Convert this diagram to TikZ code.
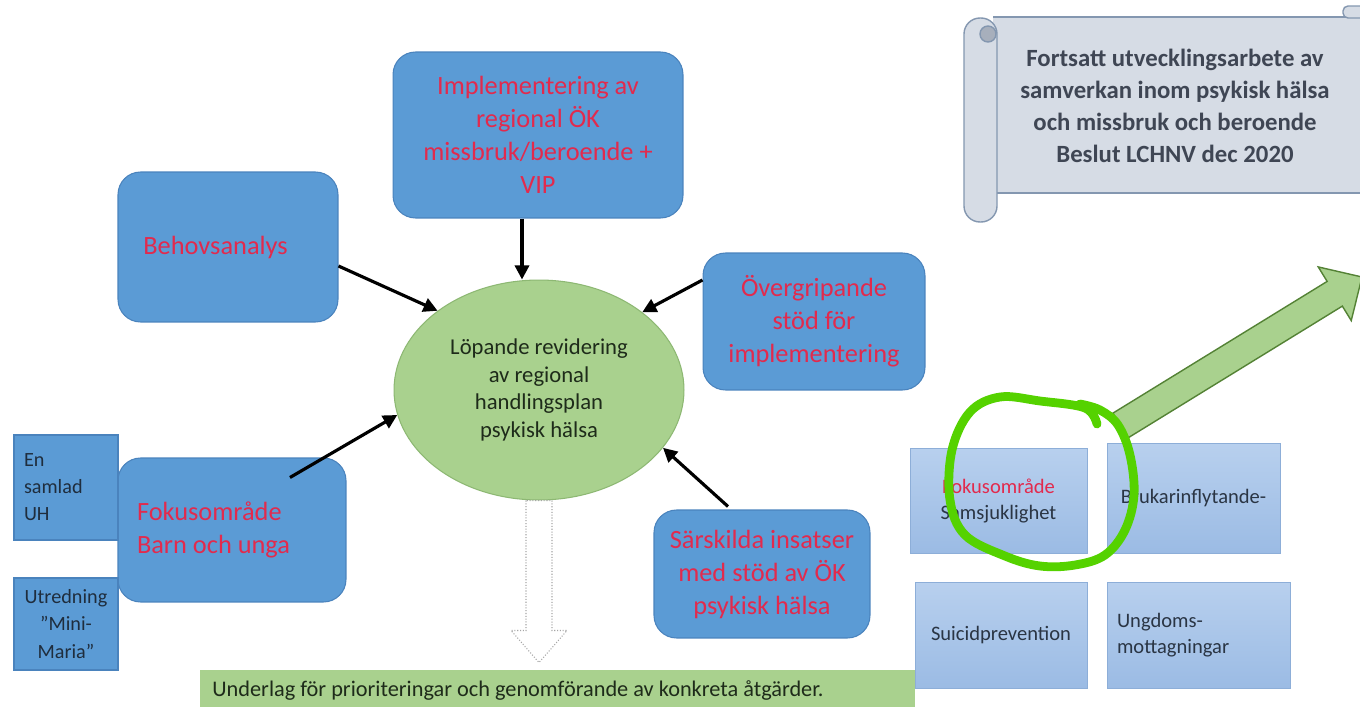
\documentclass[tikz,border=0pt]{standalone}
\usepackage{fontspec}
\setmainfont{Carlito}
\usetikzlibrary{calc,arrows.meta,shapes.geometric}
\definecolor{boxblue}{HTML}{5B9BD5}
\definecolor{boxline}{HTML}{4A83BD}
\definecolor{redtext}{HTML}{E22A4D}
\definecolor{sidetext}{HTML}{1F2D3D}
\definecolor{planfill}{HTML}{A9D18E}
\definecolor{planline}{HTML}{8DB873}
\definecolor{plantext}{HTML}{1E2B1A}
\definecolor{lighttop}{HTML}{B8D0EE}
\definecolor{lightbot}{HTML}{9BBBE4}
\definecolor{lightline}{HTML}{8DAED8}
\definecolor{lighttext}{HTML}{2A3544}
\definecolor{scrollfill}{HTML}{D6DCE5}
\definecolor{scrollline}{HTML}{8497B0}
\definecolor{scrolltext}{HTML}{3F4654}
\definecolor{curlfill}{HTML}{A7AFBC}
\definecolor{scribble}{HTML}{55D200}
\definecolor{arrowline}{HTML}{548235}

\begin{document}
\begin{tikzpicture}[x=0.02cm,y=-0.02cm,
	bluebox/.style={draw=boxline,line width=0.6pt,fill=boxblue,rounded corners=0.45cm,text=redtext,align=center,inner sep=0pt,font={\fontsize{15}{18.8}\selectfont}},
	sidebox/.style={draw=boxline,line width=0.6pt,fill=boxblue,text=sidetext,minimum width=2.08cm,inner xsep=0.2cm,text width=1.68cm,font={\fontsize{11.5}{15.4}\selectfont}},
	lightbox/.style={draw=lightline,line width=0.5pt,top color=lighttop,bottom color=lightbot,text=lighttext,align=center,font={\fontsize{11.7}{14.8}\selectfont}},
	plan/.style={ellipse,draw=planline,line width=0.6pt,fill=planfill,text=plantext,align=center,inner sep=0pt,font={\fontsize{12.9}{15.6}\selectfont}},
	arr/.style={-{Triangle[length=8pt,width=8pt]},line width=1.8pt},
	hollow/.style={draw=black!35,densely dotted,line width=0.6pt,fill=white},
	bigarrow/.style={draw=arrowline,line width=0.8pt,fill=planfill,line join=miter},
	scroll/.style={draw=scrollline,line width=0.8pt,fill=scrollfill}]
	\useasboundingbox (0,0) rectangle (1360,707);
	\fill[white] (0,0) rectangle (1360,707);
	\clip (0,0) rectangle (1360,707);

	\draw[scroll] (993,17) -- (1372,17) -- (1372,193) -- (993,193);
	\draw[scroll,rounded corners=0.1cm] (1343,6) rectangle (1366,18);
	\draw[scroll,rounded corners=0.32cm] (964,18) rectangle (997,222);
	\draw[scroll,fill=curlfill] (988,34) circle[radius=0.16cm];
	\node[text=scrolltext,align=center,font={\bfseries\fontsize{14.1}{18.2}\selectfont}] (fortsatt) at (1175,106) {Fortsatt utvecklingsarbete av\\samverkan inom psykisk hälsa\\och missbruk och beroende\\Beslut LCHNV dec 2020};

	\node[plan,minimum width=5.8cm,minimum height=4.4cm] (plan) at (539,390) {Löpande revidering\\av regional\\handlingsplan\\psykisk hälsa};
	\node[bluebox,minimum width=4.4cm,minimum height=3cm] (behov) at (228,247) {Behovsanalys\hspace*{0.5cm}};
	\node[bluebox,minimum width=5.8cm,minimum height=3.32cm] (impl) at (538,135) {Implementering av\\regional ÖK\\missbruk/beroende +\\VIP};
	\node[bluebox,minimum width=4.44cm,minimum height=2.74cm] (overg) at (814,321.5) {Övergripande\\stöd för\\implementering};
	\node[bluebox,minimum width=4.56cm,minimum height=2.88cm,align=flush left,text width=3.8cm,inner xsep=0.38cm] (barn) at (232,530) {Fokusområde\\Barn och unga};
	\node[bluebox,minimum width=4.32cm,minimum height=2.56cm] (sarsk) at (762,574) {Särskilda insatser\\med stöd av ÖK\\psykisk hälsa};
	\node[sidebox,align=flush left,minimum height=2.1cm] (uh) at (66,487.5) {En\\samlad\\UH};
	\node[sidebox,align=center,minimum height=1.84cm] (mini) at (66,624) {Utredning\\”Mini-\\Maria”};

	\draw[arr] ([yshift=-0.38cm]behov.east) -- (plan.142);
	\draw[arr] ([xshift=-0.32cm]impl.south) -- ([xshift=-0.32cm]impl.south |- plan.north);
	\draw[arr] ([yshift=0.83cm]overg.west) -- (plan.37);
	\draw[arr] ([xshift=1.16cm,yshift=-0.4cm]barn.north) -- (plan.190);
	\draw[arr] ([xshift=-0.68cm,yshift=0.06cm]sarsk.north) -- (plan.-25);

	\node[anchor=north west,fill=planfill,text=plantext,minimum width=14.3cm,minimum height=0.8cm,inner xsep=0.24cm,text width=13.82cm,align=flush left,font={\fontsize{12.7}{15}\selectfont}] (underlag) at (200,670) {Underlag för prioriteringar och genomförande av konkreta åtgärder.};
	\draw[hollow] ([xshift=-0.26cm]plan.south) -- ++(0,130) -- ++(-15,0) -- ++(28,32) -- ++(28,-32) -- ++(-15,0) -- ++(0,-130) -- cycle;

	\node[lightbox,minimum width=3.54cm,minimum height=2.1cm] (sams) at (998.5,500.5) {\textcolor{redtext}{Fokusområde}\\Samsjuklighet};
	\node[lightbox,minimum width=3.46cm,minimum height=2.2cm] (bruk) at (1193.5,498) {Brukarinflytande-};
	\node[lightbox,minimum width=3.44cm,minimum height=2.12cm] (suic) at (1001,635) {Suicidprevention};
	\node[lightbox,minimum width=3.66cm,minimum height=2.12cm,align=flush left,text width=3.26cm,inner xsep=0.2cm] (ungd) at (1198.5,635) {Ungdoms-\\mottagningar};

	\coordinate (gtail) at (1120.5,425.5);
	\coordinate (gtip) at (1362,277);
	\coordinate (hbase) at ($(gtip)!0.64cm!(gtail)$);
	\draw[bigarrow] ($(gtail)!0.29cm!90:(gtip)$) -- ($(hbase)!0.29cm!-90:(gtail)$) -- ($(hbase)!0.63cm!-90:(gtail)$) -- (gtip) -- ($(hbase)!0.63cm!90:(gtail)$) -- ($(hbase)!0.29cm!90:(gtail)$) -- ($(gtail)!0.29cm!-90:(gtip)$) -- cycle;
	\draw[scribble,line width=5pt,line cap=round,line join=round] plot[smooth,tension=0.6] coordinates {(1097,424) (1085,408) (1040,401) (1000,397) (970,412) (952,450) (950,500) (965,535) (1005,556) (1040,566) (1075,565) (1105,555) (1125,530) (1134,495) (1130,455) (1118,425) (1100,410) (1080,404)};
\end{tikzpicture}
\end{document}
